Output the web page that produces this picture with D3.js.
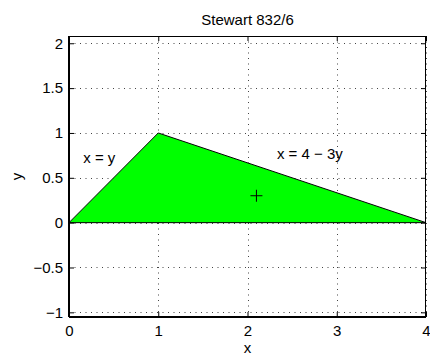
<!DOCTYPE html>
<html>
<head>
<meta charset="utf-8">
<script src="https://cdn.jsdelivr.net/npm/d3@7"></script>
<style>
body{margin:0;background:#fff;}
text{font-family:"Liberation Sans",Arial,sans-serif;fill:#000;}
</style>
</head>
<body>
<svg id="chart" width="430" height="356"></svg>
<script>
// region bounded by x=y, x=4-3y, y=0
var regionX = [0, 1, 4];
var regionY = [0, 1, 0];
var markX = [2.1], markY = [0.3];
var xTicks = [0, 1, 2, 3, 4];
var yTicks = [-1, -0.5, 0, 0.5, 1, 1.5, 2];
var labelText = ["x = y", "x = 4 \u2212 3y"];
var labelX = [0.16, 2.33];
var labelY = [0.72, 0.77];

var W = 430, H = 356;
var m = {top: 36, right: 4, bottom: 39, left: 69};

var svg = d3.select("#chart");

var x = d3.scaleLinear().domain([0, 4]).range([m.left, W - m.right]);
var y = d3.scaleLinear().domain([-1.052, 2.081]).range([H - m.bottom, m.top]);

var fmt = function(d){ return d < 0 ? "\u2212" + Math.abs(d) : "" + d; };

// dotted grid
var grid = svg.append("g").attr("stroke", "#444").attr("stroke-width", 1).attr("stroke-dasharray", "1,4.5");
grid.selectAll(".gx").data(xTicks).enter().append("line")
  .attr("x1", function(d){ return Math.round(x(d)) + 0.5; })
  .attr("x2", function(d){ return Math.round(x(d)) + 0.5; })
  .attr("y1", m.top).attr("y2", H - m.bottom);
grid.selectAll(".gy").data(yTicks).enter().append("line")
  .attr("y1", function(d){ return Math.round(y(d)) + 0.5; })
  .attr("y2", function(d){ return Math.round(y(d)) + 0.5; })
  .attr("x1", m.left).attr("x2", W - m.right);

// region
var pts = regionX.map(function(d, i){ return [x(d), y(regionY[i])]; });
svg.append("path")
  .attr("d", d3.line()(pts) + "Z")
  .attr("fill", "#00ff00")
  .attr("stroke", "#000")
  .attr("stroke-width", 1);

// centroid marker
var mk = svg.append("g").attr("stroke", "#000").attr("stroke-width", 1);
markX.forEach(function(d, i){
  var cx = x(d), cy = y(markY[i]);
  mk.append("line").attr("x1", cx - 6).attr("x2", cx + 6).attr("y1", cy).attr("y2", cy);
  mk.append("line").attr("x1", cx).attr("x2", cx).attr("y1", cy - 6).attr("y2", cy + 6);
});

// annotations
svg.selectAll(".lab").data(labelText).enter().append("text")
  .attr("x", function(d, i){ return x(labelX[i]); })
  .attr("y", function(d, i){ return y(labelY[i]); })
  .attr("dy", "0.35em")
  .style("font-size", "15px")
  .text(function(d){ return d; });

// axes
var ax = d3.axisBottom(x).tickValues(xTicks).tickSize(-5).tickPadding(8).tickFormat(fmt);
var ay = d3.axisLeft(y).tickValues(yTicks).tickSize(-5).tickPadding(6).tickFormat(fmt);
var ax2 = d3.axisTop(x).tickValues(xTicks).tickSize(-5).tickFormat("");
var ay2 = d3.axisRight(y).tickValues(yTicks).tickSize(-5).tickFormat("");

var gx = svg.append("g").attr("transform", "translate(0," + (H - m.bottom) + ")").call(ax);
var gy = svg.append("g").attr("transform", "translate(" + m.left + ",0)").call(ay);
svg.append("g").attr("transform", "translate(0," + m.top + ")").call(ax2);
svg.append("g").attr("transform", "translate(" + (W - m.right) + ",0)").call(ay2);

svg.selectAll(".domain").remove();
svg.selectAll(".tick line").attr("stroke", "#000");
svg.selectAll(".tick text").style("font-size", "15px").style("font-family", "'Liberation Sans',Arial,sans-serif");

// box
svg.append("rect")
  .attr("x", m.left + 0.5).attr("y", m.top + 0.5)
  .attr("width", W - m.left - m.right - 1).attr("height", H - m.top - m.bottom - 1)
  .attr("fill", "none").attr("stroke", "#000").attr("stroke-width", 1);
svg.append("line").attr("x1", m.left).attr("x2", W - m.right)
  .attr("y1", H - m.bottom).attr("y2", H - m.bottom).attr("stroke", "#000").attr("stroke-width", 2);
svg.append("line").attr("x1", m.left).attr("x2", m.left)
  .attr("y1", m.top).attr("y2", H - m.bottom).attr("stroke", "#000").attr("stroke-width", 2);

// titles
svg.append("text").attr("x", (m.left + W - m.right) / 2).attr("y", 25)
  .attr("text-anchor", "middle").style("font-size", "15px").text("Stewart 832/6");
svg.append("text").attr("x", (m.left + W - m.right) / 2).attr("y", 353)
  .attr("text-anchor", "middle").style("font-size", "15px").text("x");
svg.append("text").attr("transform", "translate(22," + ((m.top + H - m.bottom) / 2) + ") rotate(-90)")
  .attr("text-anchor", "middle").style("font-size", "15px").text("y");
</script>
</body>
</html>
